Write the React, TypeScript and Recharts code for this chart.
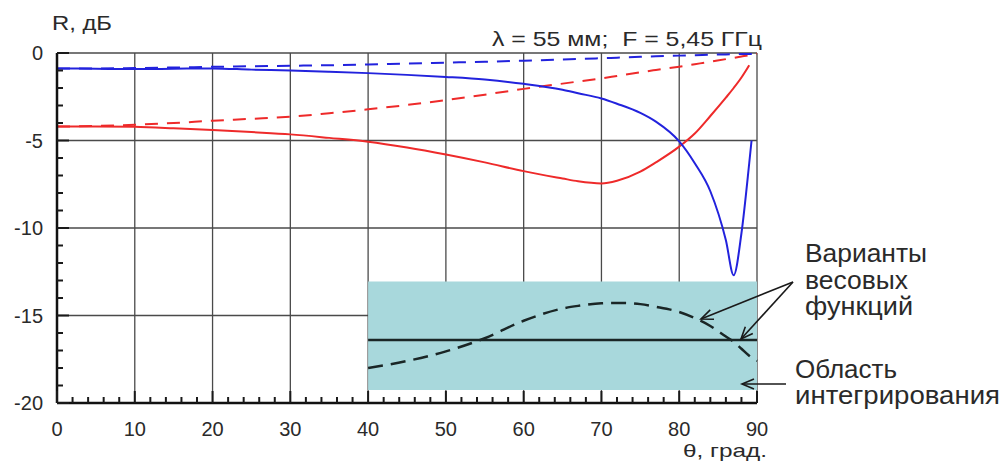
import React from "react";
import { LineChart, Line, XAxis, YAxis, CartesianGrid, ReferenceArea } from "recharts";

// θ, град.
const angles = [0, 5, 10, 15, 20, 25, 30, 35, 40, 45, 50, 55, 60, 65, 67, 70, 72, 75, 77, 80, 82, 84, 86, 87, 88, 89, 89.3, 90];

// R, дБ
const blueSolid = [-0.88, -0.9, -0.92, -0.9, -0.88, -0.95, -1.0, -1.07, -1.15, -1.25, -1.37, -1.52, -1.76, -2.1, -2.3, -2.6, -2.9, -3.42, -3.92, -5.05, -6.3, -7.9, -10.7, -12.7, -10.3, -6.3, -5.0, null];
const blueDashed = [-0.88, -0.88, -0.86, -0.83, -0.79, -0.76, -0.73, -0.7, -0.66, -0.6, -0.55, -0.5, -0.44, -0.37, -0.34, -0.3, -0.27, -0.22, -0.19, -0.15, -0.13, -0.1, -0.08, -0.07, -0.06, -0.05, -0.05, -0.04];
const redSolid = [-4.2, -4.2, -4.22, -4.3, -4.4, -4.52, -4.65, -4.85, -5.07, -5.4, -5.8, -6.25, -6.75, -7.17, -7.33, -7.45, -7.3, -6.78, -6.25, -5.35, -4.6, -3.6, -2.55, -2.0, -1.4, -0.7, null, null];
const redDashed = [-4.2, -4.17, -4.1, -4.0, -3.87, -3.76, -3.64, -3.44, -3.22, -2.97, -2.69, -2.38, -2.05, -1.75, -1.63, -1.45, -1.31, -1.1, -0.97, -0.78, -0.64, -0.5, -0.35, -0.28, -0.2, -0.12, -0.09, -0.04];

// весовые функции (условный масштаб)
const weightDashed = [null, null, null, null, null, null, null, null, -18.0, -17.6, -17.05, -16.3, -15.3, -14.6, -14.45, -14.3, -14.28, -14.35, -14.5, -14.8, -15.15, -15.6, -16.2, -16.5, -16.9, -17.3, -17.4, -17.6];
const weightSolid = [null, null, null, null, null, null, null, null, -16.4, -16.4, -16.4, -16.4, -16.4, -16.4, -16.4, -16.4, -16.4, -16.4, -16.4, -16.4, -16.4, -16.4, -16.4, -16.4, -16.4, -16.4, -16.4, -16.4];

// область интегрирования
const areaX = [40, 90];
const areaY = [-19.25, -13.05];

const xDomain = [0, 90];
const yDomain = [-20, 0];
const xTicks = Array.from({ length: 46 }, (_, i) => i * 2);
const yTicks = Array.from({ length: 21 }, (_, i) => i - 20);
const gridX = [0, 10, 20, 30, 40, 50, 60, 70, 80, 90];
const gridY = [0, -5, -10, -15];

const data = angles.map((theta, i) => ({
  theta,
  bs: blueSolid[i],
  bd: blueDashed[i],
  rs: redSolid[i],
  rd: redDashed[i],
  wd: weightDashed[i],
  ws: weightSolid[i],
}));

const FONT = "'Liberation Sans', Arial, sans-serif";
const TXT = "#2a2a2a";

const XTick = ({ x, y, payload }: any) => {
  const v = payload.value;
  const major = v % 10 === 0;
  return (
    <g>
      <line x1={x} x2={x} y1={y} y2={y - (major ? 12 : 6)} stroke="#1a1a1a" strokeWidth={2} />
      {major && (
        <text x={x} y={y + 33} textAnchor="middle" fontSize={20} fill={TXT} fontFamily={FONT}>
          {v}
        </text>
      )}
    </g>
  );
};

const YTick = ({ x, y, payload }: any) => {
  const v = payload.value;
  const major = v % 5 === 0;
  return (
    <g>
      <line x1={x} x2={x + (major ? 12 : 6)} y1={y} y2={y} stroke="#1a1a1a" strokeWidth={2} />
      {major && (
        <text x={x - 14} y={y} dy="0.36em" textAnchor="end" fontSize={20} fill={TXT} fontFamily={FONT}>
          {v}
        </text>
      )}
    </g>
  );
};

function Arrow({ x1, y1, x2, y2 }: { x1: number; y1: number; x2: number; y2: number }) {
  const a = Math.atan2(y2 - y1, x2 - x1);
  const L = 13;
  const s = 0.4;
  return (
    <g stroke="#1a1a1a" strokeWidth={1.6} fill="none">
      <line x1={x1} y1={y1} x2={x2} y2={y2} />
      <polyline
        points={`${x2 - L * Math.cos(a - s)},${y2 - L * Math.sin(a - s)} ${x2},${y2} ${x2 - L * Math.cos(a + s)},${y2 - L * Math.sin(a + s)}`}
      />
    </g>
  );
}

// grid lines only at major values, placed along the plot box
const vGrid = ({ offset }: any) =>
  gridX.map((v) => offset.left + ((v - xDomain[0]) / (xDomain[1] - xDomain[0])) * offset.width);
const hGrid = ({ offset }: any) =>
  gridY.map((v) => offset.top + ((yDomain[1] - v) / (yDomain[1] - yDomain[0])) * offset.height);

export default function App() {
  return (
    <div style={{ position: "absolute", left: 0, top: 0, width: 1003, height: 463, background: "#fff" }}>
      <LineChart width={1003} height={463} data={data} margin={{ top: 53, right: 246, left: 0, bottom: 0 }}>
        <CartesianGrid
          stroke="#4a4a4a"
          strokeWidth={1.3}
          verticalCoordinatesGenerator={vGrid}
          horizontalCoordinatesGenerator={hGrid}
        />
        <XAxis
          dataKey="theta"
          type="number"
          domain={xDomain}
          ticks={xTicks}
          interval={0}
          height={60}
          tickSize={0}
          tickMargin={0}
          tickLine={false}
          tick={<XTick />}
          axisLine={{ stroke: "#111", strokeWidth: 2.5 }}
        />
        <YAxis
          type="number"
          domain={yDomain}
          ticks={yTicks}
          interval={0}
          width={57}
          tickSize={0}
          tickMargin={0}
          tickLine={false}
          tick={<YTick />}
          axisLine={{ stroke: "#111", strokeWidth: 2.5 }}
        />
        <ReferenceArea
          x1={areaX[0]}
          x2={areaX[1]}
          y1={areaY[0]}
          y2={areaY[1]}
          fill="#a8d8dc"
          fillOpacity={1}
          stroke="none"
        />
        <Line dataKey="rd" type="monotone" stroke="#ee2a2a" strokeWidth={2} strokeDasharray="13 9" dot={false} isAnimationActive={false} />
        <Line dataKey="bd" type="monotone" stroke="#2222dd" strokeWidth={2} strokeDasharray="13 9" dot={false} isAnimationActive={false} />
        <Line dataKey="rs" type="monotone" stroke="#ee2a2a" strokeWidth={2} dot={false} isAnimationActive={false} />
        <Line dataKey="bs" type="monotone" stroke="#2222dd" strokeWidth={2} dot={false} isAnimationActive={false} />
        <Line dataKey="wd" type="monotone" stroke="#1a2626" strokeWidth={2.5} strokeDasharray="15 8" dot={false} isAnimationActive={false} />
        <Line dataKey="ws" stroke="#1a2626" strokeWidth={2.5} dot={false} isAnimationActive={false} />
      </LineChart>
      <svg
        width={1003}
        height={463}
        style={{ position: "absolute", left: 0, top: 0, pointerEvents: "none" }}
        fontFamily={FONT}
        fill={TXT}
      >
        <text x={52} y={30} fontSize={21} textLength={60} lengthAdjust="spacingAndGlyphs">R, дБ</text>
        <text x={492} y={46} fontSize={21} textLength={270} lengthAdjust="spacingAndGlyphs" style={{ whiteSpace: "pre" }}>
          {"λ = 55 мм;  F = 5,45 ГГц"}
        </text>
        <text x={683} y={457} fontSize={19} textLength={84} lengthAdjust="spacingAndGlyphs">θ, град.</text>
        <text x={805} y={262} fontSize={25} textLength={122} lengthAdjust="spacingAndGlyphs">Варианты</text>
        <text x={805} y={289} fontSize={25} textLength={103} lengthAdjust="spacingAndGlyphs">весовых</text>
        <text x={805} y={315} fontSize={25} textLength={108} lengthAdjust="spacingAndGlyphs">функций</text>
        <text x={795} y={378} fontSize={25} textLength={102} lengthAdjust="spacingAndGlyphs">Область</text>
        <text x={795} y={404} fontSize={25} textLength={205} lengthAdjust="spacingAndGlyphs">интегрирования</text>
        <Arrow x1={793} y1={282} x2={701} y2={319} />
        <Arrow x1={793} y1={282} x2={741} y2={339} />
        <Arrow x1={786} y1={384} x2={742} y2={384} />
      </svg>
    </div>
  );
}
